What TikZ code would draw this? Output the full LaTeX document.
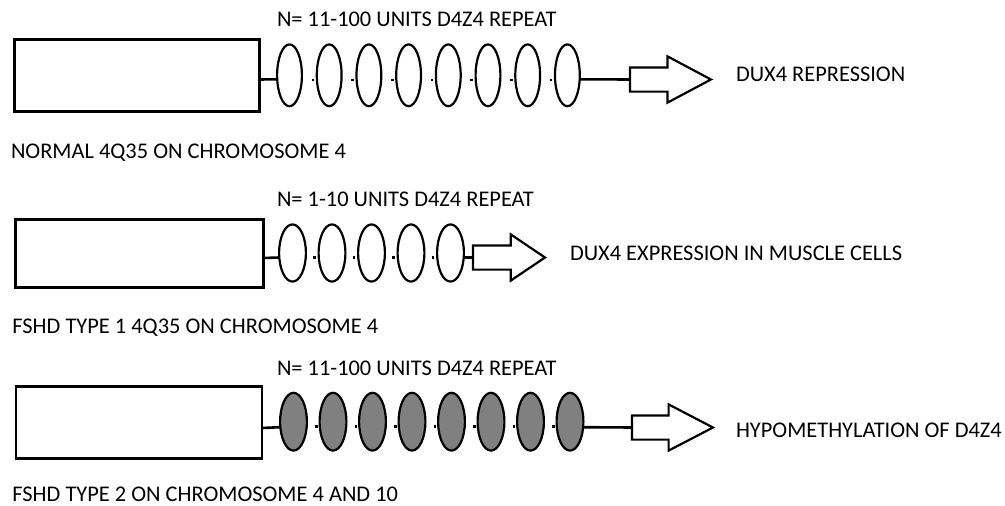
\documentclass[tikz,border=0pt]{standalone}
\usepackage{fontspec}
\setmainfont{Carlito}
\usetikzlibrary{shapes.geometric,shapes.arrows}
\begin{document}
\begin{tikzpicture}[x=1pt,y=-1pt]
        \useasboundingbox (0,0) rectangle (1005,506);
        \tikzstyle{every node}=[inner sep=0pt, outer sep=0pt]
        \tikzstyle{gene}=[draw, line width=2.6pt]
        \tikzstyle{unit}=[draw, ellipse, line width=2.2pt]
        \tikzstyle{link}=[line width=2.6pt]
        \tikzstyle{dot}=[fill, minimum size=2.6pt]
        \tikzstyle{blockarrow}=[draw, single arrow, line width=2.2pt, fill=white, inner xsep=0pt, inner ysep=11pt, single arrow head extend=11pt, anchor=tail]
        \tikzstyle{txt}=[font=\fontsize{22.4}{26}\selectfont, anchor=base west]

        % normal 4q35
        \path (137,75.5) node[gene, minimum width=245pt, minimum height=72pt] (g1) {};
        \foreach \i in {1, ..., 8}
        {
          \path (289.5+39.7*\i-39.7, 75.3) node[unit, minimum width=24.8pt, minimum height=61.8pt] (u\i) {};
        }
        \foreach \i [evaluate=\i as \j using int(\i+1)] in {1, ..., 7}
        {
          \path ([xshift=-4pt, yshift=-4.5pt]u\j.west) node[dot] (p\i) {};
        }
        \path (630,79.5) node[blockarrow, minimum height=81pt, single arrow tip angle=56] (o1) {};
        \draw [link]
          ([yshift=-4pt]g1.east) -- ([yshift=-4pt]u1.west)
          ([yshift=-4pt]u8.east) -- (o1.tail);
        \path (277,27) node[txt] (n1) {N= 11-100 UNITS D4Z4 REPEAT};
        \path (736,81) node[txt] (r1) {DUX4 REPRESSION};
        \path (11,158) node[txt] (l1) {NORMAL 4Q35 ON CHROMOSOME 4};

        % fshd type 1
        \path (139.6,253.5) node[gene, minimum width=248pt, minimum height=68pt] (g2) {};
        \foreach \i in {1, ..., 5}
        {
          \path (292.5+39.5*\i-39.5, 253) node[unit, minimum width=26.8pt, minimum height=57.2pt] (v\i) {};
        }
        \foreach \i [evaluate=\i as \j using int(\i+1)] in {1, ..., 4}
        {
          \path ([xshift=-4pt, yshift=-4.5pt]v\j.west) node[dot] (q\i) {};
        }
        \path (473,257.5) node[blockarrow, minimum height=72pt, single arrow tip angle=68] (o2) {};
        \draw [link]
          ([yshift=-4.5pt]g2.east) -- ([yshift=-4.5pt]v1.west)
          ([yshift=-4.5pt]v5.east) -- (o2.tail);
        \path (277,206) node[txt] (n2) {N= 1-10 UNITS D4Z4 REPEAT};
        \path (570,260) node[txt] (r2) {DUX4 EXPRESSION IN MUSCLE CELLS};
        \path (12.5,333) node[txt] (l2) {FSHD TYPE 1 4Q35 ON CHROMOSOME 4};

        % fshd type 2
        \path (138.8,422.5) node[gene, minimum width=246pt, minimum height=72pt] (g3) {};
        \foreach \i in {1, ..., 8}
        {
          \path (293.5+39.5*\i-39.5, 421.7) node[unit, fill={rgb,255:red,128;green,128;blue,128}, minimum width=26.8pt, minimum height=57.8pt] (w\i) {};
        }
        \foreach \i [evaluate=\i as \j using int(\i+1)] in {1, ..., 7}
        {
          \path ([xshift=-3pt, yshift=-5pt]w\j.west) node[dot] (t\i) {};
        }
        \path (632,427.5) node[blockarrow, minimum height=81pt, single arrow tip angle=55] (o3) {};
        \draw [link]
          ([yshift=-5.5pt]g3.east) -- ([yshift=-5.5pt]w1.west)
          ([yshift=-5.5pt]w8.east) -- (o3.tail);
        \path (277,375) node[txt] (n3) {N= 11-100 UNITS D4Z4 REPEAT};
        \path (736,437) node[txt] (r3) {HYPOMETHYLATION OF D4Z4};
        \path (12.5,501.5) node[txt] (l3) {FSHD TYPE 2 ON CHROMOSOME 4 AND 10};
      \end{tikzpicture}
\end{document}
